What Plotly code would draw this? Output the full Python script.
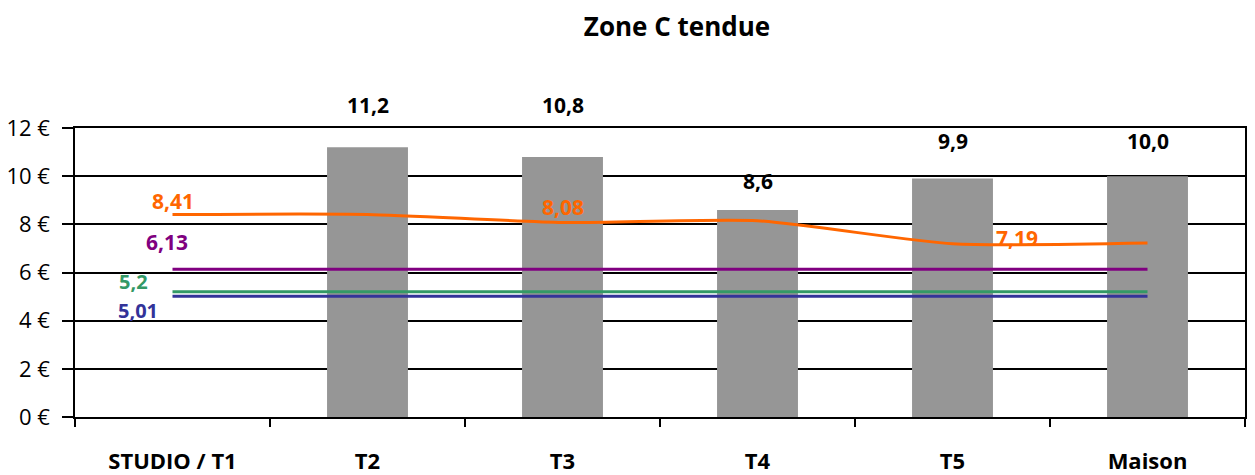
import plotly.graph_objects as go

# Chart data
categories = ["STUDIO / T1", "T2", "T3", "T4", "T5", "Maison"]
bar_categories = ["T2", "T3", "T4", "T5", "Maison"]
bar_values = [11.2, 10.8, 8.6, 9.9, 10.0]
orange_values = [8.41, 8.41, 8.08, 8.15, 7.19, 7.22]
purple_value = 6.13
green_value = 5.2
blue_value = 5.01
y_ticks = [0, 2, 4, 6, 8, 10, 12]

ORANGE = "#FF6600"
PURPLE = "#800080"
GREEN = "#339966"
BLUE = "#333399"
GREY = "#969696"
FONT = "Open Sans"


def fr(v, nd):
    return f"{v:.{nd}f}".replace(".", ",")


fig = go.Figure()

fig.add_trace(go.Bar(
    x=bar_categories, y=bar_values, marker=dict(color=GREY, line=dict(width=0)),
    width=0.415, hoverinfo="skip", showlegend=False,
))

for val, col in [(purple_value, PURPLE), (green_value, GREEN), (blue_value, BLUE)]:
    fig.add_trace(go.Scatter(
        x=categories, y=[val] * len(categories), mode="lines",
        line=dict(color=col, width=3), showlegend=False, hoverinfo="skip",
    ))

fig.add_trace(go.Scatter(
    x=categories, y=orange_values, mode="lines",
    line=dict(color=ORANGE, width=3, shape="spline", smoothing=0.6),
    showlegend=False, hoverinfo="skip",
))

annotations = []
# bar value labels (pixel lift above each bar top)
bar_label_lift = [42, 52, 29, 38, 35]
for cat, v, lift in zip(bar_categories, bar_values, bar_label_lift):
    annotations.append(dict(
        x=cat, y=v, text=f"<b>{fr(v, 1)}</b>", showarrow=False,
        yshift=lift, font=dict(family=FONT, size=21, color="black"),
    ))

# series value labels: (category, value, text, colour, xshift, yshift, size)
series_labels = [
    ("STUDIO / T1", orange_values[0], fr(orange_values[0], 2), ORANGE, 0, 13, 21),
    ("T3", orange_values[2], fr(orange_values[2], 2), ORANGE, 0, 15, 21),
    ("T5", orange_values[4], fr(orange_values[4], 2), ORANGE, 64, 6, 21),
    ("STUDIO / T1", purple_value, fr(purple_value, 2), PURPLE, -6, 27, 21),
    ("STUDIO / T1", green_value, fr(green_value, 1), GREEN, -39, 10, 20),
    ("STUDIO / T1", blue_value, fr(blue_value, 2), BLUE, -35, -14, 20),
]
for cat, v, txt, col, xs, ys, sz in series_labels:
    annotations.append(dict(
        x=cat, y=v, text=f"<b>{txt}</b>", showarrow=False, borderpad=0,
        xshift=xs, yshift=ys, font=dict(family=FONT, size=sz, color=col),
    ))

fig.update_layout(
    width=1255, height=475,
    margin=dict(l=75, r=10, t=128, b=58, autoexpand=False),
    paper_bgcolor="white", plot_bgcolor="white",
    title=dict(text="<b>Zone C tendue</b>", x=677 / 1255, xanchor="center",
               y=1 - 27 / 475, yanchor="middle",
               font=dict(family=FONT, size=26, color="black")),
    annotations=annotations,
    bargap=0.585,
)

fig.update_xaxes(
    categoryorder="array", categoryarray=categories,
    range=[-0.5, 5.5], automargin=False,
    showline=True, linecolor="black", linewidth=1.5, mirror=True,
    ticks="outside", tickson="boundaries", ticklen=8, tickcolor="black", tickwidth=1.5,
    ticklabelstandoff=24,
    tickfont=dict(family=FONT, size=22, color="black", weight="bold"),
    showgrid=False,
)
fig.update_yaxes(
    range=[0, 12], tickvals=y_ticks, ticktext=[f"{t} €" for t in y_ticks],
    automargin=False,
    showline=True, linecolor="black", linewidth=1.5, mirror=True,
    ticks="outside", ticklen=11, tickcolor="black", tickwidth=1.5,
    ticklabelstandoff=8,
    showgrid=True, gridcolor="black", gridwidth=1.5,
    tickfont=dict(family=FONT, size=22, color="black"),
    zeroline=False,
)

fig.write_html("out.html")
